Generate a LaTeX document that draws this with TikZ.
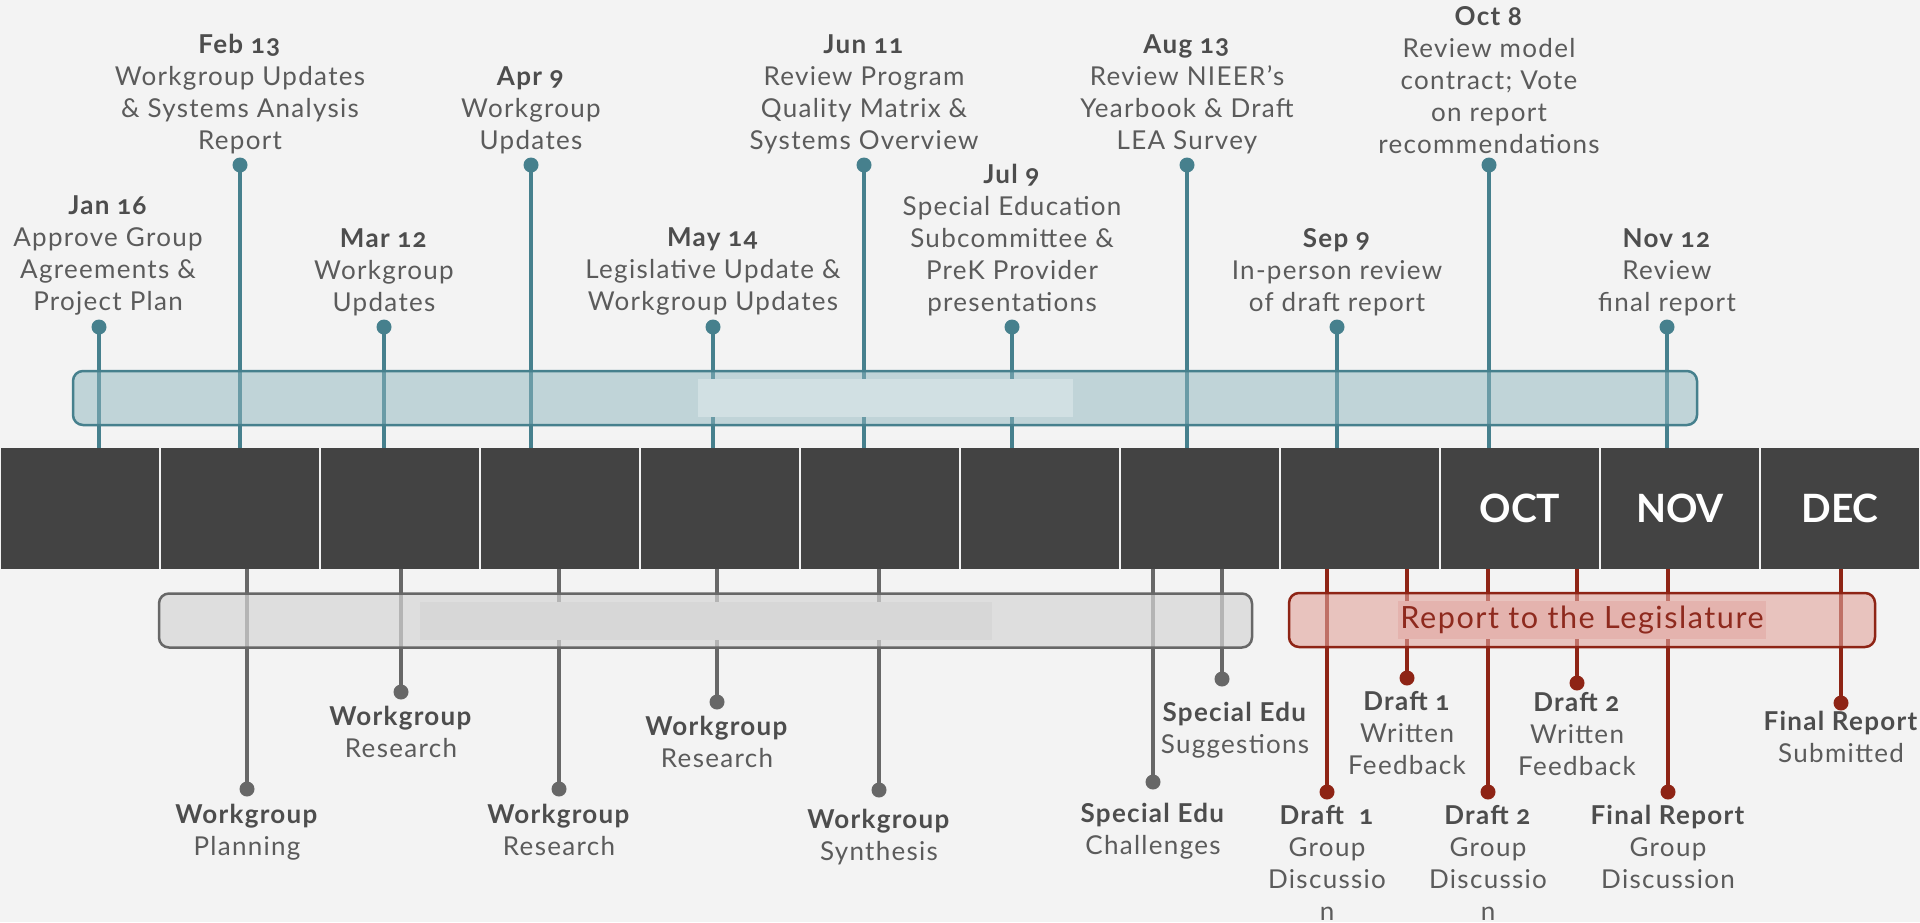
\documentclass[tikz,border=0pt]{standalone}
\usepackage{fontspec}
\setmainfont{Lato}[Numbers=OldStyle, LetterSpace=5]
\newfontfamily\monthfont{Lato}
\usetikzlibrary{positioning}

\definecolor{pagebg}{HTML}{F3F3F3}
\definecolor{barfill}{HTML}{434343}
\definecolor{tealline}{HTML}{46808D}
\definecolor{tealband}{HTML}{8FB7BF}
\definecolor{tealinner}{HTML}{D1E0E3}
\definecolor{grayline}{HTML}{676767}
\definecolor{grayband}{HTML}{D6D6D6}
\definecolor{grayinner}{HTML}{D7D7D7}
\definecolor{redline}{HTML}{8E2415}
\definecolor{redband}{HTML}{E1A39C}
\definecolor{redinner}{HTML}{E4B3AE}
\definecolor{reporttext}{HTML}{8E2A1E}
\definecolor{bodytext}{HTML}{5B5B5B}
\definecolor{headtext}{HTML}{4D4D4D}

\newcommand{\evhead}[1]{\textcolor{headtext}{\textbf{#1}}}

\tikzset{
	every node/.style={
		align=center,
	},
}
\tikzstyle{monthcell}=[rectangle, fill=barfill, minimum width=79pt, minimum height=60.5pt, inner sep=0pt, text=white, font=\monthfont\bfseries\fontsize{19.5}{22}\selectfont]
\tikzstyle{topdot}=[circle, fill=tealline, minimum size=7.5pt, inner sep=0pt]
\tikzstyle{graydot}=[circle, fill=grayline, minimum size=7.5pt, inner sep=0pt]
\tikzstyle{reddot}=[circle, fill=redline, minimum size=7.5pt, inner sep=0pt]
\tikzstyle{topstem}=[line width=1.75pt, draw=tealline]
\tikzstyle{graystem}=[line width=1.75pt, draw=grayline]
\tikzstyle{redstem}=[line width=1.9pt, draw=redline]
\tikzstyle{evlabel}=[inner sep=0pt, text=bodytext, font=\fontsize{13}{16}\selectfont]
\tikzstyle{band}=[rectangle, rounded corners=5pt, line width=1.25pt, minimum height=27pt, inner sep=0pt]
\tikzstyle{bandinner}=[rectangle, minimum height=19pt, inner sep=0pt]

\begin{document}
\begin{tikzpicture}[x=0.5pt, y=-0.5pt]
    \fill[pagebg] (0,0) rectangle (1920,922);
    \useasboundingbox (0,0) rectangle (1920,922);

    % month bar
    \foreach \i/\lbl in {1/{},2/{},3/{},4/{},5/{},6/{},7/{},8/{},9/{},10/OCT,11/NOV,12/DEC}
        \node (m\i) [monthcell] at ({(\i-0.5)*160}, 508.5) {\lbl};

    % meetings above the bar
    \node (jan) [topdot] at (99,327) {};
    \node (feb) [topdot] at (240,165) {};
    \node (mar) [topdot] at (384,327) {};
    \node (apr) [topdot] at (531,165) {};
    \node (may) [topdot] at (713,327) {};
    \node (jun) [topdot] at (864,165) {};
    \node (jul) [topdot] at (1012,327) {};
    \node (aug) [topdot] at (1187,165) {};
    \node (sep) [topdot] at (1337,327) {};
    \node (oct) [topdot] at (1489,165) {};
    \node (nov) [topdot] at (1667,327) {};
    \foreach \n in {jan,feb,mar,apr,may,jun,jul,aug,sep,oct,nov}
        \draw[topstem] (\n.center) -- (\n |- m1.north);

    % work items below the bar
    \node (plan) [graydot] at (247,789) {};
    \node (resa) [graydot] at (401,692) {};
    \node (resb) [graydot] at (559,789) {};
    \node (resc) [graydot] at (717,702) {};
    \node (synth) [graydot] at (879,790) {};
    \node (chall) [graydot] at (1153,782) {};
    \node (sugg) [graydot] at (1222,679) {};
    \foreach \n in {plan,resa,resb,resc,synth,chall,sugg}
        \draw[graystem] (\n.center) -- (\n |- m1.south);

    \node (dagd) [reddot] at (1327,792) {};
    \node (dawf) [reddot] at (1407,678) {};
    \node (dbgd) [reddot] at (1488,792) {};
    \node (dbwf) [reddot] at (1577,683) {};
    \node (frgd) [reddot] at (1668,792) {};
    \node (frsub) [reddot] at (1841,703) {};
    \foreach \n in {dagd,dawf,dbgd,dbwf,frgd,frsub}
        \draw[redstem] (\n.center) -- (\n |- m1.south);

    % bands
    \node (topband) [band, draw=tealline, fill=tealband, fill opacity=0.5, minimum width=812pt] at (885,398) {};
    \node (topinner) [bandinner, fill=tealinner, minimum width=187.5pt] at (topband.center) {};
    \node (grayb) [band, draw=grayline, fill=grayband, fill opacity=0.7, minimum width=546.5pt] at (705.5,620.5) {};
    \node (grayinner) [bandinner, fill=grayinner, minimum width=286pt] at (grayb.center) {};
    \node (redb) [band, draw=redline, fill=redband, fill opacity=0.6, minimum width=293pt] at (1582,620) {};
    \node (report) [bandinner, fill=redinner, minimum width=184pt, text=reporttext, font=\fontsize{15.3}{18}\selectfont] at (redb.center) {Report to the Legislature};

    % labels
    \node (janlbl) [evlabel, above=1.5pt of jan, xshift=4.5pt] {\evhead{Jan 16}\\Approve Group\\Agreements \&\\Project Plan};
    \node (feblbl) [evlabel, above=1.5pt of feb] {\evhead{Feb 13}\\Workgroup Updates\\\& Systems Analysis\\Report};
    \node (marlbl) [evlabel, above=1.5pt of mar] {\evhead{Mar 12}\\Workgroup\\Updates};
    \node (aprlbl) [evlabel, above=1.5pt of apr] {\evhead{Apr 9}\\Workgroup\\Updates};
    \node (maylbl) [evlabel, above=1.5pt of may] {\evhead{May 14}\\Legislative Update \&\\Workgroup Updates};
    \node (junlbl) [evlabel, above=1.5pt of jun] {\evhead{Jun 11}\\Review Program\\Quality Matrix \&\\Systems Overview};
    \node (jullbl) [evlabel, above=1.5pt of jul] {\evhead{Jul 9}\\Special Education\\Subcommittee \&\\PreK Provider\\presentations};
    \node (auglbl) [evlabel, above=1.5pt of aug] {\evhead{Aug 13}\\Review NIEER's\\Yearbook \& Draft\\LEA Survey};
    \node (seplbl) [evlabel, above=1.5pt of sep] {\evhead{Sep 9}\\In-person review\\of draft report};
    \node (octlbl) [evlabel, above=1.5pt of oct] {\evhead{Oct 8}\\Review model\\contract; Vote\\on report\\recommendations};
    \node (novlbl) [evlabel, above=1.5pt of nov] {\evhead{Nov 12}\\Review\\final report};

    \node (planlbl) [evlabel, below=3.5pt of plan] {\evhead{Workgroup}\\Planning};
    \node (resalbl) [evlabel, below=3pt of resa] {\evhead{Workgroup}\\Research};
    \node (resblbl) [evlabel, below=3.5pt of resb] {\evhead{Workgroup}\\Research};
    \node (resclbl) [evlabel, below=3pt of resc] {\evhead{Workgroup}\\Research};
    \node (synthlbl) [evlabel, below=5.5pt of synth] {\evhead{Workgroup}\\Synthesis};
    \node (challlbl) [evlabel, below=6.5pt of chall] {\evhead{Special Edu}\\Challenges};
    \node (sugglbl) [evlabel, below=7.5pt of sugg, xshift=6.5pt] {\evhead{Special Edu}\\Suggestions};
    \node (dagdlbl) [evlabel, below=2.5pt of dagd] {\evhead{Draft~~1}\\Group\\Discussio\\n};
    \node (dawflbl) [evlabel, below=2.5pt of dawf] {\evhead{Draft 1}\\Written\\Feedback};
    \node (dbgdlbl) [evlabel, below=2.5pt of dbgd] {\evhead{Draft 2}\\Group\\Discussio\\n};
    \node (dbwflbl) [evlabel, below=0.5pt of dbwf] {\evhead{Draft 2}\\Written\\Feedback};
    \node (frgdlbl) [evlabel, below=2.5pt of frgd] {\evhead{Final Report}\\Group\\Discussion};
    \node (frsublbl) [evlabel, below=0pt of frsub] {\evhead{Final Report}\\Submitted};
\end{tikzpicture}
\end{document}
